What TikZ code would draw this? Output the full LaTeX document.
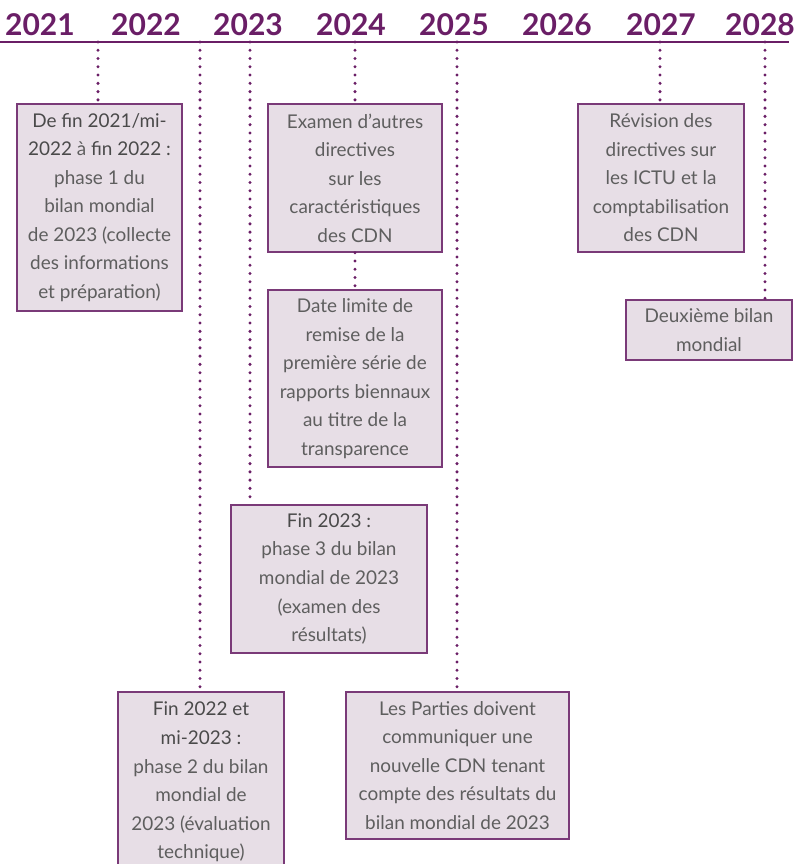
\documentclass[tikz,border=0pt]{standalone}
\usepackage{fontspec}
\setmainfont{Lato}
\definecolor{tlpurple}{HTML}{6A1E66}
\definecolor{boxfill}{HTML}{E7DEE6}
\definecolor{boxline}{HTML}{7A3A78}
\definecolor{txtgray}{HTML}{5E5E5E}
\definecolor{txtdark}{HTML}{4A4A4A}
\tikzset{
  year/.style={anchor=base, text=tlpurple, font=\fontsize{22.5pt}{24pt}\selectfont\bfseries, inner sep=0},
  tline/.style={draw=tlpurple, line width=1.2pt},
  dotline/.style={draw=tlpurple, line width=2.5pt, line cap=round, dash pattern=on 0pt off 6.2pt},
  evbox/.style={draw=boxline, fill=boxfill, line width=1.1pt, text=txtgray, align=center, inner sep=0,
    font=\fontsize{14.2pt}{21.4pt}\selectfont},
  bw/.style={minimum width=#1*0.75pt},
  bh/.style={minimum height=#1*0.75pt},
}
\begin{document}
\begin{tikzpicture}[x=0.75pt,y=-0.75pt]
\useasboundingbox (0,0) rectangle (800,864);
% years
\node[year] (y21) at (40,35) {2021};
\node[year] (y22) at (146,35) {2022};
\node[year] (y23) at (248,35) {2023};
\node[year] (y24) at (351,35) {2024};
\node[year] (y25) at (454,35) {2025};
\node[year] (y26) at (557,35) {2026};
\node[year] (y27) at (661,35) {2027};
\node[year] (y28) at (760,35) {2028};
% timeline
\coordinate (tl0) at (0,42);
\coordinate (tl1) at (789,42);
\draw[tline] (tl0) -- (tl1);
% tick coordinates
\coordinate (t1) at (98,42);
\coordinate (t2) at (200,42);
\coordinate (t3) at (250,42);
\coordinate (t4) at (355,42);
\coordinate (t5) at (457,42);
\coordinate (t6) at (660,42);
\coordinate (t7) at (765,42);
% boxes
\node[evbox, bw=165, bh=207] (b1) at (99.5,207.5)
  {{\color{txtdark}De fin 2021/mi-}\\{\color{txtdark}2022} à {\color{txtdark}fin 2022 :}\\phase 1 du\\bilan mondial\\de 2023 (collecte\\des informations\\et préparation)};
\node[evbox, bw=174, bh=148] (b2) at (355,178)
  {Examen d’autres\\directives\\sur les\\caractéristiques\\des CDN};
\node[evbox, bw=174, bh=177] (b3) at (355,378.5)
  {Date limite de\\remise de la\\première série de\\rapports biennaux\\au titre de la\\transparence};
\node[evbox, bw=166, bh=148] (b4) at (661,178)
  {Révision des\\directives sur\\les ICTU et la\\comptabilisation\\des CDN};
\node[evbox, bw=166, bh=60] (b5) at (709,330)
  {Deuxième bilan\\mondial};
\node[evbox, bw=196, bh=148] (b6) at (329,579)
  {{\color{txtdark}Fin 2023 :}\\phase 3 du bilan\\mondial de 2023\\(examen des\\résultats)};
\node[evbox, bw=166, bh=180] (b7) at (201,782)
  {{\color{txtdark}Fin 2022 et}\\{\color{txtdark}mi-2023 :}\\phase 2 du bilan\\mondial de\\2023 (évaluation\\technique)};
\node[evbox, bw=223, bh=147] (b8) at (457.5,765.5)
  {Les Parties doivent\\communiquer une\\nouvelle CDN tenant\\compte des résultats du\\bilan mondial de 2023};
% dotted connectors
\draw[dotline] (t1) -- (t1 |- b1.north);
\draw[dotline] (t2) -- (t2 |- b7.north);
\draw[dotline] (t3) -- (t3 |- b6.north);
\draw[dotline] (t4) -- (t4 |- b2.north);
\draw[dotline] (b2.south) -- (b3.north);
\draw[dotline] (t5) -- (t5 |- b8.north);
\draw[dotline] (t6) -- (t6 |- b4.north);
\draw[dotline] (t7) -- (t7 |- b5.north);
\end{tikzpicture}
\end{document}
